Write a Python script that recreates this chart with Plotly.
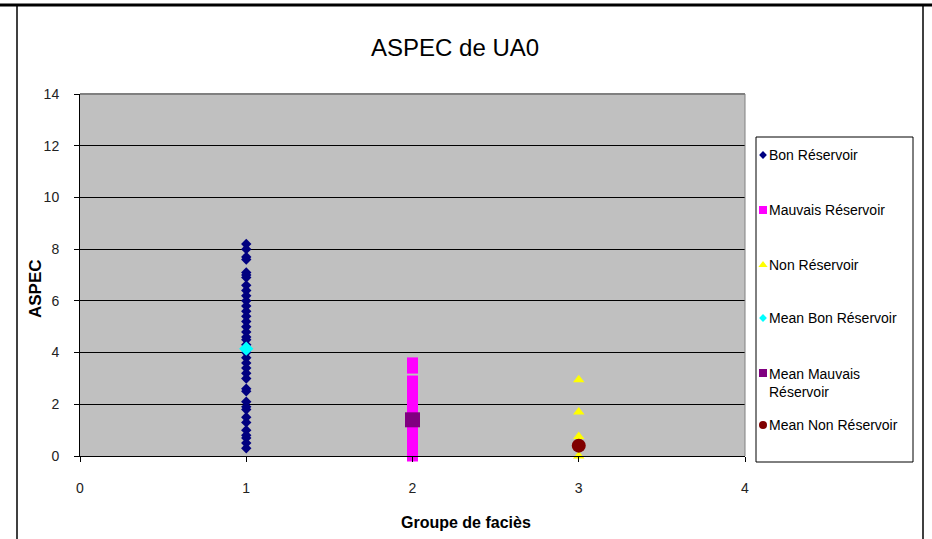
import plotly.graph_objects as go

bon_y = [8.2, 8.0, 7.7, 7.6, 7.1, 7.0, 6.9, 6.6, 6.4, 6.2, 6.0, 5.8, 5.6, 5.4, 5.2, 5.0,
         4.8, 4.6, 4.5, 4.3, 4.0, 3.8, 3.6, 3.4, 3.2, 3.0, 2.6, 2.5, 2.1, 1.9, 1.8, 1.5,
         1.3, 1.0, 0.8, 0.7, 0.5, 0.3]
mauvais_y = [3.6, 3.4, 2.9, 2.7, 2.5, 2.3, 2.1, 1.9, 1.7, 1.5, 1.3, 1.1, 0.9, 0.7, 0.5,
             0.3, 0.1, 0.0]
non_y = [2.95, 1.7, 0.75, 0.0]
mean_bon = [4.15]
mean_mauvais = [1.4]
mean_non = [0.4]

x_bon, x_mauvais, x_non = 1, 2, 3

series_names = ["Bon Réservoir", "Mauvais Réservoir", "Non Réservoir",
                "Mean Bon Réservoir", "Mean Mauvais<br>Réservoir", "Mean Non Réservoir"]
series_symbols = ["diamond", "square", "triangle-up", "diamond", "square", "circle"]
series_colors = ["#000080", "#FF00FF", "#FFFF00", "#00FFFF", "#800080", "#800000"]
series_x = [x_bon, x_mauvais, x_non, x_bon, x_mauvais, x_non]
series_y = [bon_y, mauvais_y, non_y, mean_bon, mean_mauvais, mean_non]

# styles
plot_sizes = [8, 11, 10, 11, 15, 14]
legend_sizes = [6, 8, 8, 6, 8, 8]
legend_rows = [155, 210, 265, 318, 373, 425]   # pixel rows of legend entries

W, H = 932, 539
PL, PR, PT, PB = 80, 923, 94, 470          # paper area in pixels
pw, ph = PR - PL, PB - PT
AX_R, AX_B = 745, 456                       # plot area right / bottom
LG_L, LG_R, LG_T, LG_B = 756, 913, 137, 462  # legend box

def px(x):
    return (x - PL) / pw

def py(y):
    return (PB - y) / ph

font = "Liberation Sans, Arial, sans-serif"

fig = go.Figure()
for name, sym, col, xv, yv, sz in zip(series_names, series_symbols, series_colors,
                                      series_x, series_y, plot_sizes):
    fig.add_trace(go.Scatter(
        x=[xv] * len(yv), y=yv, mode="markers", name=name, showlegend=False,
        marker=dict(symbol=sym, color=col, size=sz, line=dict(width=0)),
        cliponaxis=False, xaxis="x", yaxis="y"))

# custom legend glyphs
for name, sym, col, sz, row in zip(series_names, series_symbols, series_colors,
                                   legend_sizes, legend_rows):
    fig.add_trace(go.Scatter(
        x=[763], y=[row], mode="markers",
        showlegend=False, hoverinfo="skip",
        marker=dict(symbol=sym, color=col, size=sz, line=dict(width=0)),
        cliponaxis=False, xaxis="x2", yaxis="y2"))

annotations = []
for name, row in zip(series_names, legend_rows):
    multi = "<br>" in name
    annotations.append(dict(
        text=name, xref="x2", yref="y2", x=767, y=row - (0 if not multi else 9),
        xanchor="left", yanchor="top" if multi else "middle", showarrow=False,
        align="left", font=dict(family=font, size=14, color="#000000")))

annotations += [
    dict(text="ASPEC de UA0", xref="paper", yref="paper", x=px(455), y=py(47),
         xanchor="center", yanchor="middle", showarrow=False,
         font=dict(family=font, size=24, color="#000000")),
    dict(text="<b>Groupe de faciès</b>", xref="paper", yref="paper", x=px(466), y=py(522),
         xanchor="center", yanchor="middle", showarrow=False,
         font=dict(family=font, size=16, color="#000000")),
    dict(text="<b>ASPEC</b>", xref="paper", yref="paper", x=px(35), y=py(289),
         xanchor="center", yanchor="middle", showarrow=False, textangle=-90,
         font=dict(family=font, size=17, color="#000000")),
]

fig.update_layout(
    width=W, height=H,
    margin=dict(l=PL, r=W - PR, t=PT, b=H - PB, autoexpand=False),
    paper_bgcolor="white", plot_bgcolor="white",
    font=dict(family=font, size=14, color="#000000"),
    showlegend=False,
    xaxis=dict(domain=[0, px(AX_R)], anchor="y", range=[0, 4], dtick=1, tick0=0,
               showgrid=False, zeroline=False,
               showline=True, linecolor="#000000", linewidth=1,
               ticks="outside", ticklen=5, tickcolor="#000000", ticklabelstandoff=14,
               tickfont=dict(family=font, size=14, color="#222222")),
    yaxis=dict(domain=[py(AX_B), 1], anchor="x", range=[0, 14], dtick=2, tick0=0,
               showgrid=True, gridcolor="#000000", gridwidth=1, zeroline=False,
               showline=True, linecolor="#000000", linewidth=1,
               ticks="outside", ticklen=5, tickcolor="#000000", ticklabelstandoff=12,
               tickfont=dict(family=font, size=14, color="#222222")),
    xaxis2=dict(domain=[px(LG_L), px(LG_R)], anchor="y2", range=[LG_L, LG_R],
                visible=False, fixedrange=True),
    yaxis2=dict(domain=[py(LG_B), py(LG_T)], anchor="x2", range=[LG_B, LG_T],
                visible=False, fixedrange=True),
    annotations=annotations,
    shapes=[
        # plot background
        dict(type="rect", xref="paper", yref="paper", x0=0, x1=px(AX_R), y0=py(AX_B), y1=1,
             fillcolor="#C0C0C0", line=dict(width=0), layer="below"),
        # grey top/right border of plot area
        dict(type="line", xref="paper", yref="paper", x0=0, x1=px(AX_R), y0=1, y1=1,
             line=dict(color="#808080", width=2)),
        dict(type="line", xref="paper", yref="paper", x0=px(AX_R), x1=px(AX_R),
             y0=py(AX_B), y1=1, line=dict(color="#808080", width=1)),
        # legend box
        dict(type="rect", xref="paper", yref="paper", x0=px(LG_L), x1=px(LG_R),
             y0=py(LG_B), y1=py(LG_T), fillcolor="white",
             line=dict(color="#000000", width=1), layer="below"),
        # outer frame
        dict(type="line", xref="paper", yref="paper", x0=px(0), x1=px(W), y0=py(5), y1=py(5),
             line=dict(color="#000000", width=3)),
        dict(type="line", xref="paper", yref="paper", x0=px(17), x1=px(17), y0=py(5),
             y1=py(H + 5), line=dict(color="#000000", width=1.5)),
        dict(type="line", xref="paper", yref="paper", x0=px(923), x1=px(923), y0=py(5),
             y1=py(H + 5), line=dict(color="#000000", width=1.5)),
    ],
)

fig.write_html("out.html")
